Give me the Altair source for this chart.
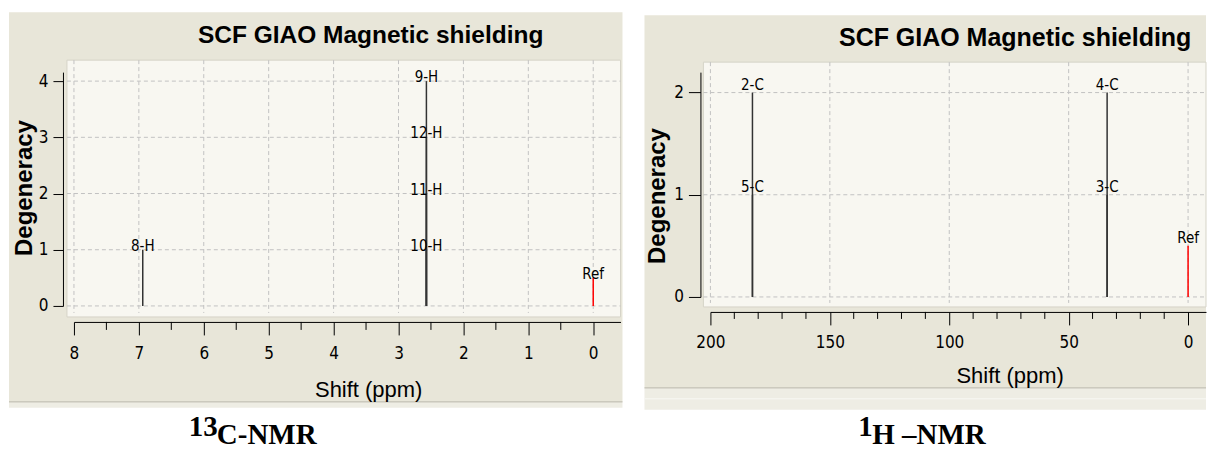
import altair as alt
import pandas as pd

# ---------------- data ----------------
left_atoms = ["8-H", "10-H", "11-H", "12-H", "9-H"]
left_shift = [6.94, 2.57, 2.57, 2.57, 2.57]
left_degen = [1, 1, 2, 3, 4]
left_xticks = [8, 7, 6, 5, 4, 3, 2, 1, 0]
left_minor = [7.5, 6.5, 5.5, 4.5, 3.5, 2.5, 1.5, 0.5]
left_yticks = [0, 1, 2, 3, 4]

right_atoms = ["5-C", "2-C", "3-C", "4-C"]
right_shift = [182.4, 182.4, 33.9, 33.9]
right_degen = [1, 2, 1, 2]
right_xticks = [200, 150, 100, 50, 0]
right_minor = [190, 180, 170, 160, 140, 130, 120, 110, 90, 80, 70, 60, 40, 30, 20, 10]
right_yticks = [0, 1, 2]

ref_label = ["Ref"]
ref_shift = [0]
ref_degen = [0.5]

title_text = "SCF GIAO Magnetic shielding"
y_title = "Degeneracy"
x_title = "Shift (ppm)"
left_caption = ["13", "C-NMR"]
right_caption = ["1", "H \u2013NMR"]

NARROW = "DejaVu Sans Condensed, Liberation Sans Narrow, Arial Narrow, sans-serif"
SANS = "Liberation Sans, Arial, sans-serif"
SERIF = "Liberation Serif, Times New Roman, serif"
BEIGE = "#E8E6D9"
LIGHT = "#F8F7F1"
GRID = "#C2C2C2"

dummy = pd.DataFrame({"d": [0]})


def box(x1, x2, y1, y2, fill, stroke=None):
    kw = dict(fill=fill)
    if stroke:
        kw.update(stroke=stroke, strokeWidth=1)
    else:
        kw.update(strokeWidth=0)
    return alt.Chart(dummy).mark_rect(**kw).encode(
        x=alt.value(x1), x2=alt.value(x2), y=alt.value(y1), y2=alt.value(y2)
    )


def hline(x1, x2, y, color):
    return alt.Chart(dummy).mark_rule(color=color, strokeWidth=1).encode(
        x=alt.value(x1), x2=alt.value(x2), y=alt.value(y)
    )


def label(text, x, y, font, size, weight="normal", align="center", angle=0):
    kw = dict(font=font, fontSize=size, fontWeight=weight, align=align,
              baseline="alphabetic", color="black")
    if angle:
        kw.update(angle=angle, baseline="middle")
    return alt.Chart(dummy).mark_text(**kw).encode(
        x=alt.value(x), y=alt.value(y), text=alt.value(text)
    )


def panel(atoms, shifts, degens, xticks, minor, yticks, xdom, ydom, W, H, g, caption):
    xs = alt.Scale(domain=xdom, nice=False, zero=False)
    ys = alt.Scale(domain=ydom, nice=False, zero=False)
    xax = alt.Axis(values=xticks, format="d", grid=False, title="", offset=g["xoff"],
                   tickSize=13, labelPadding=g["xlp"], labelFont=NARROW, labelFontSize=17,
                   labelColor="black", domainColor="black", tickColor="black",
                   labelFlush=False, labelOverlap=False, zindex=1)
    yax = alt.Axis(values=yticks, format="d", grid=False, title="", offset=g["yoff"],
                   tickSize=g["yts"], labelPadding=5, labelFont=NARROW, labelFontSize=17,
                   labelColor="black", domainColor="black", tickColor="black",
                   labelFlush=False, labelOverlap=False, zindex=1)

    def X(f):
        return alt.X(f, scale=xs, axis=xax)

    def Y(f):
        return alt.Y(f, scale=ys, axis=yax)

    peaks = pd.DataFrame({"atom": atoms, "shift": shifts, "deg": degens, "base": 0})
    ref = pd.DataFrame({"atom": ref_label, "shift": ref_shift, "deg": ref_degen, "base": 0})
    vg = pd.DataFrame({"v": xticks})
    hg = pd.DataFrame({"v": yticks})
    mn = pd.DataFrame({"v": minor})

    layers = []
    layers.append(box(g["bx1"], g["bx2"], g["by1"], g["by2"], BEIGE))
    layers.extend(g["extra"])
    layers.append(box(g["px1"], g["px2"], g["py1"], g["py2"], LIGHT, "#D6D4C8"))
    layers.append(alt.Chart(vg).mark_rule(color=GRID, strokeDash=[4, 3], strokeWidth=1).encode(
        x=X("v:Q"), y=alt.value(g["py1"]), y2=alt.value(g["py2"] - 4)))
    layers.append(alt.Chart(hg).mark_rule(color=GRID, strokeDash=[4, 3], strokeWidth=1).encode(
        y=Y("v:Q"), x=alt.value(g["px1"]), x2=alt.value(g["px2"])))
    layers.append(alt.Chart(mn).mark_rule(color="black", strokeWidth=1).encode(
        x=X("v:Q"), y=alt.value(H + g["xoff"]), y2=alt.value(H + g["xoff"] + g["mlen"])))
    layers.append(alt.Chart(peaks).mark_rule(color="#333333", strokeWidth=1.5).encode(
        x=X("shift:Q"), y=Y("deg:Q"), y2="base:Q"))
    layers.append(alt.Chart(ref).mark_rule(color="#FF0000", strokeWidth=1.5).encode(
        x=X("shift:Q"), y=Y("deg:Q"), y2="base:Q"))
    layers.append(alt.Chart(pd.concat([peaks, ref])).mark_text(
        font=NARROW, fontSize=15, baseline="middle", align="center", dy=g["ldy"], color="black"
    ).encode(x=X("shift:Q"), y=Y("deg:Q"), text="atom:N"))
    layers.append(label(title_text, g["tx"], g["ty"], SANS, g["tfs"], "bold"))
    layers.append(label(y_title, g["yx"], g["yy"], SANS, 24, "bold", angle=270))
    layers.append(label(x_title, g["sx"], g["sy"], SANS, 22))
    layers.append(label(caption[0], g["cx1"], 364, SERIF, 29, "bold", align="left"))
    layers.append(label(caption[1], g["cx2"], 372, SERIF, 29, "bold", align="left"))
    return alt.layer(*layers).properties(width=W, height=H)


gl = dict(bx1=-65, bx2=549, by1=-60, by2=330,
          px1=-7, px2=547, py1=-12, py2=245,
          xoff=16, xlp=11, yoff=11, yts=10, mlen=8, ldy=-4,
          tx=297, ty=-29, tfs=24.5, yx=-49, yy=116, sx=295, sy=325,
          cx1=115, cx2=143,
          extra=[box(-65, 549, 330, 336, "#EEEDE4"), hline(-65, 549, 330, "#B8B6AA")])
gr = dict(bx1=-66, bx2=496, by1=-57, by2=316,
          px1=-7, px2=496, py1=-10, py2=235,
          xoff=15, xlp=10, yoff=10, yts=12, mlen=7, ldy=-8,
          tx=305, ty=-26, tfs=25, yx=-52, yy=124, sx=300, sy=311,
          cx1=148, cx2=162,
          extra=[box(-66, 496, 316, 338, "#EEEDE4"), hline(-66, 496, 316, "#B8B6AA"),
                 hline(-66, 496, 327, "#F8F8F4")])

left = panel(left_atoms, left_shift, left_degen, left_xticks, left_minor, left_yticks,
             [8, -0.42], [0, 4.16], 547, 234, gl, left_caption)
right = panel(right_atoms, right_shift, right_degen, right_xticks, right_minor, right_yticks,
              [200, -7.5], [0, 2.2], 496, 225, gr, right_caption)

chart = alt.hconcat(left, right, spacing=90, bounds="flush",
                    padding={"left": 0, "top": 4, "right": 0, "bottom": 0},
                    background="white").configure_view(strokeOpacity=0)

chart.save("out.html", embed_options={"renderer": "svg", "actions": False})
